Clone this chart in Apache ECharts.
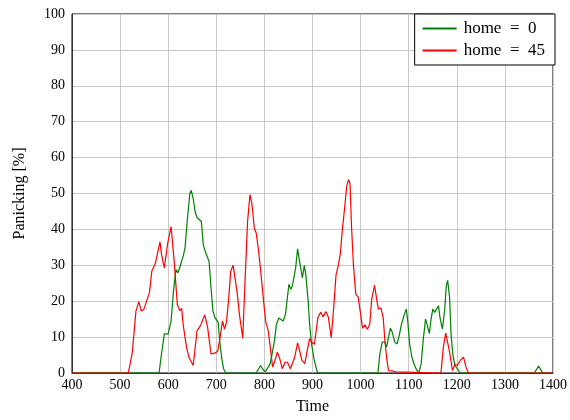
<!DOCTYPE html>
<html><head><meta charset="utf-8">
<script src="https://cdn.jsdelivr.net/npm/echarts@6/dist/echarts.min.js"></script>
<style>html,body{margin:0;padding:0;background:#fff}#c{width:570px;height:420px}</style>
</head><body><div id="c"></div>
<script>
const xTicks = [400,500,600,700,800,900,1000,1100,1200,1300,1400];
const yTicks = [0,10,20,30,40,50,60,70,80,90,100];
const seriesNames = ['home\u2002=\u20020','home\u2002=\u200245'];

const greenTime = [400,581,586,592,595,600,606,611,616,620,624,627,631,635,640,645,648,652,656,660,664,669,673,678,681,685,689,693,697,701,704,707,711,715,720,
  783,788,792,796,801,806,812,816,821,825,830,834,839,844,847,851,855,858,862,865,869,872,876,879,883,886,891,894,898,903,908,911,
  1036,1040,1045,1050,1054,1058,1062,1066,1071,1076,1081,1085,1090,1095,1098,1102,1106,1111,1116,1121,1126,1130,1135,1138,1143,1146,1150,1154,1157,1162,1165,1170,1175,1178,1181,1185,1188,1192,1196,1201,1207,
  1361,1370,1379,1400];
const greenValue = [0,0,5.3,10.9,11.3,10.9,14.5,22.8,28.8,27.9,29.3,30.7,32.5,34.8,43.1,50.0,50.9,48.6,44.9,43.3,43.6,42.2,35.7,33.4,33.9,31.1,23.8,17.3,15.5,15.5,14.1,9.0,4.4,1.2,0,
  0,1.2,2.1,1.2,0.3,1.2,2.6,5.3,9.0,13.6,15.3,15.5,14.5,16.4,20.1,24.7,23.3,24.2,24.2,29.3,34.6,32.0,28.8,26.5,30.0,27.4,20.1,13.6,8.1,4.0,1.2,0,
  0,5.3,8.6,8.7,7.2,9.9,12.5,11.3,8.6,8.1,10.9,13.6,15.9,17.8,14.5,8.1,4.8,2.5,1.0,0,2.6,9.0,15.0,13.6,11.0,14.5,17.8,16.9,17.1,18.7,15.5,12.2,17.8,24.2,25.8,21.0,10.9,4.9,2.1,1.2,0,
  0,1.9,0,0];

const redTime = [400,517,525,533,539,544,549,554,561,566,570,573,577,583,586,592,599,606,609,613,619,624,628,631,638,643,652,660,667,676,682,689,698,703,709,713,717,721,726,730,735,738,743,748,755,760,765,770,774,779,783,788,793,799,803,808,813,817,822,827,832,837,843,848,854,858,863,869,873,878,884,889,894,899,904,911,917,922,928,933,939,944,949,954,958,962,966,971,975,978,981,985,990,995,999,1004,1009,1014,1019,1023,1029,1034,1037,1042,1047,1050,1054,1058,1062,1068,1073,1076,
  1167,1172,1177,1181,1185,1191,1196,1201,1207,1214,1219,1224,1400];
const redValue = [0,0,5.3,17.3,19.9,17.3,17.6,19.6,22.4,28.4,28.5,30.4,30.4,36.5,33.1,29.3,36.2,40.8,40.3,30.2,19.1,17.3,18.0,13.6,7.2,4.4,2.1,11.8,13.2,16.2,12.7,5.3,5.6,6.1,10.9,14.5,12.2,14.1,21,28.4,30.0,29.5,22.8,16.4,9.7,26.5,42.2,49.7,47.2,40.3,39.0,33.9,27.4,19.1,14.1,11.8,6.3,1.7,3.5,5.8,4.0,1.2,3.0,3.0,1.2,0.7,4.4,8.4,6.3,3.5,2.6,6.3,9.6,8.5,8.0,15.3,16.9,15.7,17.1,15.5,9.8,18.2,27.4,30.2,33.4,39.9,44.9,51.9,53.9,52.8,41.2,30.2,21.9,21.2,17.3,12.5,13.4,12.2,13.6,20.5,24.5,20.1,17.8,18.2,15.5,9.9,4.4,0.7,0.7,0.5,0.3,0,
  0,7.2,11.1,10.9,5.8,0.7,2.4,2.1,3.5,4.4,1.7,0,0];

const pair = (t, v) => t.map((x, i) => [x, v[i]]);
const font = 'Liberation Serif';
const chart = echarts.init(document.getElementById('c'), null, {renderer: 'canvas'});
chart.setOption({
  animation: false,
  backgroundColor: '#fff',
  grid: {left: 72, right: 13, top: 14, bottom: 44, show: true, borderColor: '#000', borderWidth: 1, backgroundColor: 'transparent'},
  legend: {
    orient: 'vertical', right: 15, top: 14, itemWidth: 34, itemHeight: 2, itemGap: 5,
    padding: [6, 10, 6, 8], borderColor: '#000', borderWidth: 1, backgroundColor: '#fff', borderRadius: 0,
    textStyle: {fontFamily: font, fontSize: 17, color: '#000', padding: [0, 0, 0, 2]},
    icon: 'rect',
    data: seriesNames
  },
  xAxis: {
    type: 'value', min: xTicks[0], max: xTicks[xTicks.length - 1], interval: 100,
    name: 'Time', nameLocation: 'middle', nameGap: 26,
    nameTextStyle: {fontFamily: font, fontSize: 16, color: '#000'},
    axisLine: {lineStyle: {color: '#333', width: 1}},
    axisTick: {show: false},
    axisLabel: {fontFamily: font, fontSize: 14, color: '#000', margin: 5, formatter: v => String(v)},
    splitLine: {show: true, lineStyle: {color: '#c8c8c8', width: 1}}
  },
  yAxis: {
    type: 'value', min: yTicks[0], max: yTicks[yTicks.length - 1], interval: 10,
    name: 'Panicking [%]', nameLocation: 'middle', nameGap: 44, nameRotate: 90,
    nameTextStyle: {fontFamily: font, fontSize: 16, color: '#000'},
    axisLine: {show: true, lineStyle: {color: '#333', width: 1}},
    axisTick: {show: false},
    axisLabel: {fontFamily: font, fontSize: 14, color: '#000', margin: 7},
    splitLine: {show: true, lineStyle: {color: '#c8c8c8', width: 1}}
  },
  series: [
    {name: seriesNames[0], type: 'line', data: pair(greenTime, greenValue), showSymbol: false, symbol: 'none',
     lineStyle: {color: '#008000', width: 1.2}, itemStyle: {color: '#008000'}},
    {name: seriesNames[1], type: 'line', data: pair(redTime, redValue), showSymbol: false, symbol: 'none',
     lineStyle: {color: '#ff0000', width: 1.2}, itemStyle: {color: '#ff0000'}}
  ]
});
</script></body></html>
